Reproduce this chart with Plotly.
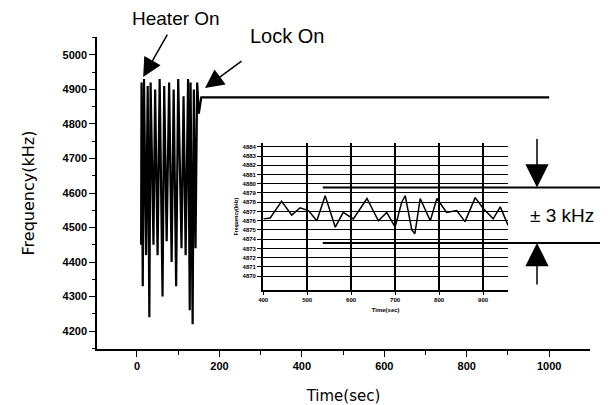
import plotly.graph_objects as go

# ---------------- data ----------------
# main trace: heater cycling, then locked
main_t = [10, 11, 14, 17, 22, 26, 30, 33, 40, 44, 50, 55, 62, 66, 72, 78, 84, 89,
          95, 100, 108, 113, 118, 124, 128, 130, 135, 138, 142, 146, 150, 153, 156, 1000]
main_f = [4450, 4920, 4330, 4930, 4420, 4910, 4240, 4920, 4450, 4900, 4420, 4930,
          4300, 4910, 4460, 4920, 4400, 4900, 4330, 4930, 4440, 4880, 4420, 4930,
          4260, 4920, 4220, 4900, 4440, 4920, 4830, 4860, 4877, 4877]

# inset: locked frequency detail
inset_t = [401, 416, 442, 465, 484, 503, 522, 541, 564, 582, 605, 636, 662, 681, 700,
           715, 723, 738, 745, 757, 780, 795, 817, 840, 859, 882, 901, 923, 939, 957]
inset_f = [4876.2, 4876.3, 4878.1, 4876.6, 4877.4, 4877.1, 4876.0, 4878.7, 4875.3,
           4876.9, 4876.2, 4878.4, 4876.0, 4876.9, 4875.3, 4878.0, 4878.7, 4875.0,
           4874.6, 4878.4, 4876.0, 4878.4, 4876.9, 4877.1, 4875.9, 4878.5, 4877.3,
           4876.2, 4877.5, 4875.5]

main_xticks = [0, 200, 400, 600, 800, 1000]
main_yticks = [4200, 4300, 4400, 4500, 4600, 4700, 4800, 4900, 5000]
main_ytick_labels = ["4200", "4300", "4400", "4500", "4600", "4700", "4800", "4900", "5000"]
inset_xticks = [400, 500, 600, 700, 800, 900]
inset_yticks = list(range(4870, 4885))
band_center = 4876.6
band_half = 3

FONT = "Liberation Sans"
WIDE = "DejaVu Sans"
tickfont = dict(family=FONT, size=11, color="black", weight="bold")

fig = go.Figure()
fig.add_trace(go.Scatter(x=main_t, y=main_f, mode="lines",
                         line=dict(color="black", width=2.2), showlegend=False))
fig.add_trace(go.Scatter(x=inset_t, y=inset_f, mode="lines", xaxis="x2", yaxis="y2",
                         line=dict(color="black", width=1.5), showlegend=False))

# page body has an 8px margin, so the figure is sized 600x397
fig.update_layout(
    width=600, height=397,
    margin=dict(l=89, r=18, t=29, b=56),
    paper_bgcolor="white", plot_bgcolor="white",
    xaxis=dict(range=[-97, 1099], tickvals=main_xticks, ticks="outside", ticklen=6,
               tickwidth=1.2, tickcolor="black", showline=True, linecolor="black",
               linewidth=1.5, showgrid=False, zeroline=False, tickfont=tickfont,
               automargin=False,
               minor=dict(dtick=100, tick0=0, ticks="outside", ticklen=4, tickcolor="black"),
               title=dict(text="Time(sec)", font=dict(family=WIDE, size=15, color="black"),
                          standoff=20)),
    yaxis=dict(range=[4148, 5052], tickvals=main_yticks, ticktext=main_ytick_labels,
               ticks="outside", ticklen=6, tickwidth=1.2, tickcolor="black",
               showline=True, linecolor="black", linewidth=1.5, showgrid=False,
               zeroline=False, tickfont=tickfont, automargin=False,
               minor=dict(dtick=50, tick0=0, ticks="outside", ticklen=3, tickcolor="black"),
               title=dict(text="Frequency(kHz)", font=dict(family=WIDE, size=16, color="black"),
                          standoff=24)),
    xaxis2=dict(domain=[0.337, 0.834], anchor="y2", range=[400, 957],
                tickvals=inset_xticks, ticks="outside", ticklen=3, tickcolor="black",
                showline=True, linecolor="black", linewidth=1.5,
                showgrid=True, gridcolor="black", gridwidth=2, zeroline=False,
                tickfont=dict(family=FONT, size=6, color="black", weight="bold"),
                title=dict(text="Time(sec)", standoff=6,
                           font=dict(family=FONT, size=6, color="black", weight="bold"))),
    yaxis2=dict(domain=[0.189, 0.660], anchor="x2", range=[4868.5, 4884.4],
                tickvals=inset_yticks, ticks="outside", ticklen=4, tickcolor="black",
                showline=True, linecolor="black", linewidth=2,
                showgrid=True, gridcolor="black", gridwidth=1.3, zeroline=False,
                tickfont=dict(family=FONT, size=6, color="black", weight="bold"),
                title=dict(text="Frequency(kHz)", standoff=4,
                           font=dict(family=FONT, size=5, color="black", weight="bold"))),
)

# +/- 3 kHz band lines
for v in (band_center + band_half, band_center - band_half):
    fig.add_shape(type="line", xref="paper", yref="y2", x0=0.458, x1=1.03, y0=v, y1=v,
                  line=dict(color="black", width=2))

annots = [
    dict(x=0.8925, y=band_center + band_half, xref="paper", yref="y2", ax=0, ay=-50,
         text="", showarrow=True, arrowhead=2, arrowsize=3.1, arrowwidth=1.5,
         arrowcolor="black", standoff=0),
    dict(x=0.8925, y=band_center - band_half, xref="paper", yref="y2", ax=0, ay=43,
         text="", showarrow=True, arrowhead=2, arrowsize=3.1, arrowwidth=1.5,
         arrowcolor="black", standoff=0),
    dict(x=0.943, y=band_center, xref="paper", yref="y2", text="± 3 kHz", showarrow=False,
         xanchor="center", font=dict(family=FONT, size=19, color="black")),
    dict(x=15, y=4936, xref="x", yref="y", ax=25, ay=-44, text="", showarrow=True,
         arrowhead=2, arrowsize=2.5, arrowwidth=1.5, arrowcolor="black", standoff=0),
    dict(x=165, y=4904, xref="x", yref="y", ax=38, ay=-28, text="", showarrow=True,
         arrowhead=2, arrowsize=2.5, arrowwidth=1.5, arrowcolor="black", standoff=0),
    dict(x=0.160, y=1.058, xref="paper", yref="paper", text="Heater On", showarrow=False,
         xanchor="center", yanchor="middle", font=dict(family=FONT, size=19, color="black")),
    dict(x=0.385, y=1.003, xref="paper", yref="paper", text="Lock On", showarrow=False,
         xanchor="center", yanchor="middle", font=dict(family=FONT, size=20, color="black")),
]
for a in annots:
    fig.add_annotation(**a)
fig.data[0].cliponaxis = False
fig.write_html("out.html")
